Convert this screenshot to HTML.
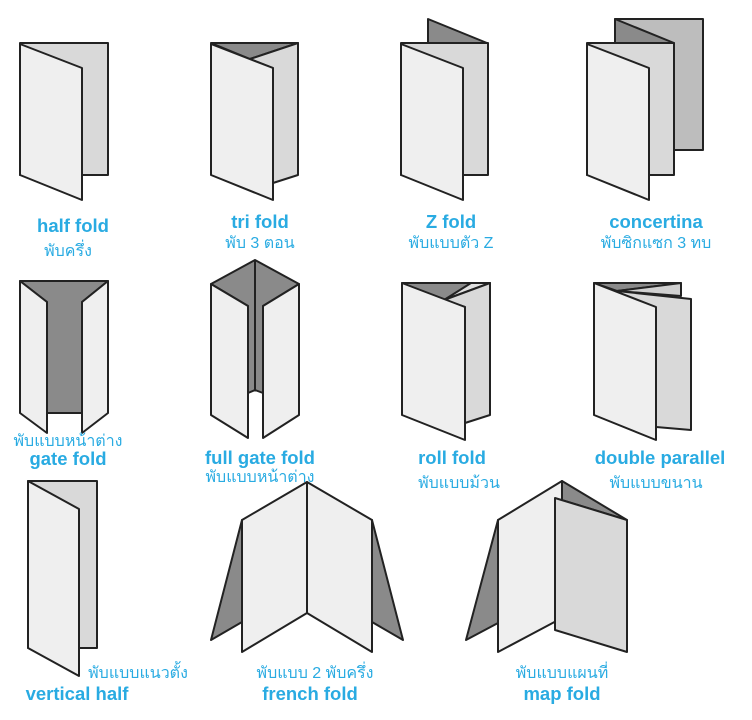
<!DOCTYPE html>
<html><head><meta charset="utf-8"><style>
html,body{margin:0;padding:0;background:#fff;}
svg{display:block;}
text{font-family:"Liberation Sans","DejaVu Sans",sans-serif;fill:#29abe2;text-anchor:middle;}
.b{font-weight:bold;font-size:18.5px;}
.t{font-size:16px;}
</style></head><body>
<svg width="752" height="720" viewBox="0 0 752 720" xmlns="http://www.w3.org/2000/svg">
<g stroke="#222" stroke-width="2" stroke-linejoin="round">
<!-- half fold -->
<rect x="20" y="43" width="88" height="132" fill="#d9d9d9"/>
<polygon points="20,44 82,68 82,200 20,175" fill="#efefef"/>
<!-- tri fold -->
<polygon points="211,43 298,43 250,59" fill="#8a8a8a"/>
<polygon points="250,59 298,43 298,175 273,183 273,68" fill="#d9d9d9"/>
<polygon points="211,44 273,68 273,200 211,175" fill="#efefef"/>
<!-- Z fold -->
<polygon points="428,19 487,43 428,43" fill="#8a8a8a"/>
<rect x="401" y="43" width="87" height="132" fill="#d9d9d9"/>
<polygon points="401,44 463,68 463,200 401,175" fill="#efefef"/>
<!-- concertina -->
<rect x="615" y="19" width="88" height="131" fill="#bdbdbd"/>
<polygon points="615,19 674,43 615,43" fill="#8a8a8a"/>
<rect x="587" y="43" width="87" height="132" fill="#d9d9d9"/>
<polygon points="587,44 649,68 649,200 587,175" fill="#efefef"/>
<!-- gate fold -->
<polygon points="20,281 108,281 82,302 82,413 47,413 47,302" fill="#8a8a8a"/>
<polygon points="20,281 47,302 47,433 20,413" fill="#efefef"/>
<polygon points="108,281 82,302 82,433 108,413" fill="#efefef"/>
<!-- full gate fold -->
<polygon points="211,284 255,260 299,284 263,306 263,393 255,390 248,393 248,306" fill="#8a8a8a"/>
<line x1="255" y1="260" x2="255" y2="390"/>
<polygon points="211,284 248,306 248,438 211,415" fill="#efefef"/>
<polygon points="299,284 263,306 263,438 299,415" fill="#efefef"/>
<!-- roll fold -->
<polygon points="402,283 490,283 444,300" fill="#8a8a8a"/>
<polygon points="444,300 471,283 490,283" fill="#e0e0e0"/>
<polygon points="444,300 490,283 490,415 465,423 465,307" fill="#d9d9d9"/>
<polygon points="402,283 465,307 465,440 402,415" fill="#efefef"/>
<!-- double parallel -->
<polygon points="594,283 681,283 617,291" fill="#8a8a8a"/>
<polygon points="617,291 681,283 681,296" fill="#d0d0d0"/>
<polygon points="617,291 691,299 691,430 656,427" fill="#d9d9d9"/>
<polygon points="594,283 656,307 656,440 594,415" fill="#efefef"/>
<!-- vertical half -->
<rect x="28" y="481" width="69" height="167" fill="#d9d9d9"/>
<polygon points="28,481 79,509 79,676 28,648" fill="#efefef"/>
<!-- french fold -->
<polygon points="242,520 211,640 242,622" fill="#8a8a8a"/>
<polygon points="372,520 403,640 372,622" fill="#8a8a8a"/>
<polygon points="242,520 307,482 307,613 242,652" fill="#efefef"/>
<polygon points="372,520 307,482 307,613 372,652" fill="#efefef"/>
<!-- map fold -->
<polygon points="498,520 466,640 498,623" fill="#8a8a8a"/>
<polygon points="562,481 627,520 555,498" fill="#8a8a8a"/>
<polygon points="498,520 562,481 562,618 498,652" fill="#efefef"/>
<polygon points="555,498 627,520 627,652 555,630" fill="#d9d9d9"/>
</g>
<text class="b" x="73" y="232">half fold</text>
<text class="t" x="68" y="256">พับครึ่ง</text>
<text class="b" x="260" y="228">tri fold</text>
<text class="t" x="260" y="248">พับ 3 ตอน</text>
<text class="b" x="451" y="228">Z fold</text>
<text class="t" x="451" y="248">พับแบบตัว Z</text>
<text class="b" x="656" y="228">concertina</text>
<text class="t" x="656" y="248">พับซิกแซก 3 ทบ</text>
<text class="t" x="68" y="446">พับแบบหน้าต่าง</text>
<text class="b" x="68" y="465">gate fold</text>
<text class="b" x="260" y="464">full gate fold</text>
<text class="t" x="260" y="482">พับแบบหน้าต่าง</text>
<text class="b" x="452" y="464">roll fold</text>
<text class="t" x="459" y="488">พับแบบม้วน</text>
<text class="b" x="660" y="464">double parallel</text>
<text class="t" x="656" y="488">พับแบบขนาน</text>
<text class="t" x="138" y="678">พับแบบแนวตั้ง</text>
<text class="b" x="77" y="700">vertical half</text>
<text class="t" x="315" y="678">พับแบบ 2 พับครึ่ง</text>
<text class="b" x="310" y="700">french fold</text>
<text class="t" x="562" y="678">พับแบบแผนที่</text>
<text class="b" x="562" y="700">map fold</text>
</svg>
</body></html>
